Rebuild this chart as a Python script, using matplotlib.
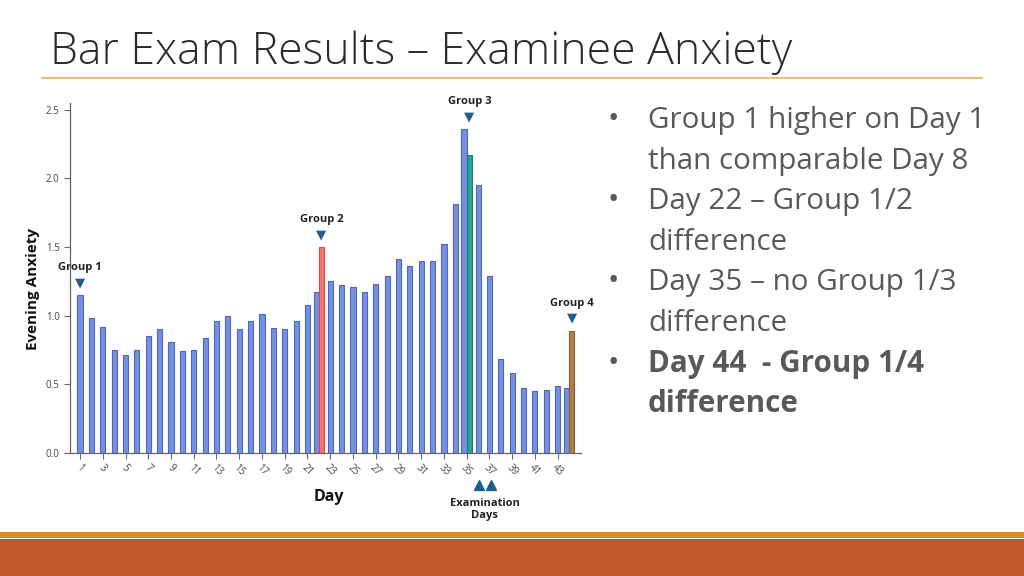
import matplotlib
matplotlib.use("Agg")
import matplotlib.pyplot as plt
from matplotlib.patches import Rectangle
from matplotlib.lines import Line2D
import numpy as np

# ---------------- data ----------------
days = list(range(1, 45))
group1 = [1.15, 0.98, 0.92, 0.75, 0.71, 0.75, 0.85, 0.90, 0.81, 0.74,
          0.75, 0.84, 0.96, 1.00, 0.90, 0.96, 1.01, 0.91, 0.90, 0.96,
          1.08, 1.17, 1.25, 1.22, 1.21, 1.17, 1.23, 1.29, 1.41, 1.36,
          1.40, 1.40, 1.52, 1.81, 2.36, 1.95, 1.29, 0.68, 0.58, 0.47,
          0.45, 0.46, 0.49, 0.47]
compare_days = [22, 35, 44]
compare_vals = [1.50, 2.17, 0.89]
compare_names = ["Group 2", "Group 3", "Group 4"]
tick_days = list(range(1, 44, 2))
yticks = [0.0, 0.5, 1.0, 1.5, 2.0, 2.5]
exam_days = [36, 37]

title = "Bar Exam Results \u2013 Examinee Anxiety"
bullets = [
    ("Group 1 higher on Day 1", "than comparable Day 8", "normal"),
    ("Day 22 \u2013 Group 1/2", "difference", "normal"),
    ("Day 35 \u2013 no Group 1/3", "difference", "normal"),
    ("Day 44  - Group 1/4", "difference", "bold"),
]

# ---------------- style ----------------
W, H = 1024, 576
fig = plt.figure(figsize=(W / 100, H / 100), dpi=100)
FONT = ["Open Sans", "DejaVu Sans"]

blue_face, blue_edge = "#7590dc", "#4e68c2"
comp_faces = ["#f27474", "#2ba394", "#b07c4c"]
comp_edges = ["#d64a4a", "#1c7c70", "#8a5a30"]
marker_col = "#1f5f8a"

def px2fig_x(x):
    return x / W

def px2fig_y(y):
    return 1 - y / H

# axes placement (pixel coordinates from the reference)
ax_left, ax_right = 70, 581
ax_bottom, ax_top = 452.7, 103
ax = fig.add_axes([px2fig_x(ax_left), px2fig_y(ax_bottom),
                   (ax_right - ax_left) / W, (ax_bottom - ax_top) / H])

width = 0.45
x_main = np.array(days, dtype=float)
offsets = np.zeros(len(days))
for d in compare_days:
    offsets[days.index(d)] = -0.24
ax.bar(x_main + offsets, group1, width=width, color=blue_face,
       edgecolor=blue_edge, linewidth=0.8, zorder=2)
cx = np.array(compare_days, dtype=float) + 0.24
ax.bar(cx, compare_vals, width=width, color=comp_faces,
       edgecolor=comp_edges, linewidth=0.8, zorder=3)

ax.set_xlim(0.12, 45.05)
ax.set_ylim(0, 2.55)
ax.set_yticks(yticks)
ax.set_yticklabels([f"{v:.1f}" for v in yticks])
ax.set_xticks(tick_days)
ax.set_xticklabels([str(d) for d in tick_days], rotation=-45,
                   ha="center", va="top")
for s in ["top", "right"]:
    ax.spines[s].set_visible(False)
for s in ["left", "bottom"]:
    ax.spines[s].set_color("#666666")
    ax.spines[s].set_linewidth(0.9)
ax.tick_params(axis="both", colors="#666666", labelcolor="#444444",
               labelsize=7, length=4, width=0.8)
ax.tick_params(axis="x", pad=3)
for lab in ax.get_xticklabels() + ax.get_yticklabels():
    lab.set_fontfamily(FONT)

ax.set_ylabel("Evening Anxiety", fontsize=11, fontweight="bold",
              family=FONT, color="#111111")
ax.yaxis.set_label_coords(-(ax_left - 33) / (ax_right - ax_left),
                          (452.7 - 289) / (452.7 - 103))
ax.yaxis.label.set_va("center")
ax.set_xlabel("Day", fontsize=11.5, fontweight="bold", family=FONT,
              color="#111111")
ax.xaxis.set_label_coords((329 - ax_left) / (ax_right - ax_left),
                          -(497 - 452.7) / (452.7 - 103))
ax.xaxis.label.set_va("center")

# group markers: triangle and label above the taller bar of each group
labels_all = [("Group 1", 1.0, group1[0])]
for n, d, x, v in zip(compare_names, compare_days, cx, compare_vals):
    labels_all.append((n, x, max(v, group1[days.index(d)])))
for name, x, v in labels_all:
    ax.annotate("\u25BC", xy=(x, v), xytext=(0, 9), textcoords="offset points",
                ha="center", va="center", fontsize=9.5, color=marker_col,
                family=["DejaVu Sans"], annotation_clip=False)
    ax.annotate(name, xy=(x, v), xytext=(0, 19.5), textcoords="offset points",
                ha="center", va="center", fontsize=8, fontweight="bold",
                family=FONT, color="#222222", annotation_clip=False)

# examination days markers (below axis)
for d in exam_days:
    ax.plot([d + 0.1], [-0.235], marker="^", color=marker_col, markersize=6.5,
            clip_on=False, zorder=4)
ax.text(np.mean(exam_days) + 0.1, -0.33, "Examination\nDays", ha="center",
        va="top", fontsize=8, fontweight="bold", family=FONT,
        color="#222222", linespacing=1.15)

# title and rule
fig.text(px2fig_x(50), px2fig_y(64), title, fontsize=32,
         family=["Open Sans", "DejaVu Sans"], fontweight="light",
         color="#2b2b2b", va="baseline", ha="left")
fig.add_artist(Line2D([px2fig_x(42), px2fig_x(982)],
                      [px2fig_y(78), px2fig_y(78)],
                      color="#ebb060", linewidth=1.2))

# bullets
base = 128
step = 40.6
for i, (l1, l2, wt) in enumerate(bullets):
    y1 = base + step * (2 * i)
    y2 = y1 + step
    fig.text(px2fig_x(607), px2fig_y(y1), "\u2022", fontsize=22,
             family=FONT, color="#595959", va="baseline", ha="left")
    fig.text(px2fig_x(648), px2fig_y(y1), l1, fontsize=21.3, family=FONT,
             fontweight=wt, color="#595959", va="baseline", ha="left")
    fig.text(px2fig_x(648), px2fig_y(y2), l2, fontsize=21.3, family=FONT,
             fontweight=wt, color="#595959", va="baseline", ha="left")

# bottom bands
fig.add_artist(Rectangle((0, px2fig_y(538)), 1, (538 - 532) / H,
                         transform=fig.transFigure, color="#e6891e", lw=0))
fig.add_artist(Rectangle((0, 0), 1, (576 - 539) / H,
                         transform=fig.transFigure, color="#bd582c", lw=0))

fig.savefig("out.png", dpi=100)
